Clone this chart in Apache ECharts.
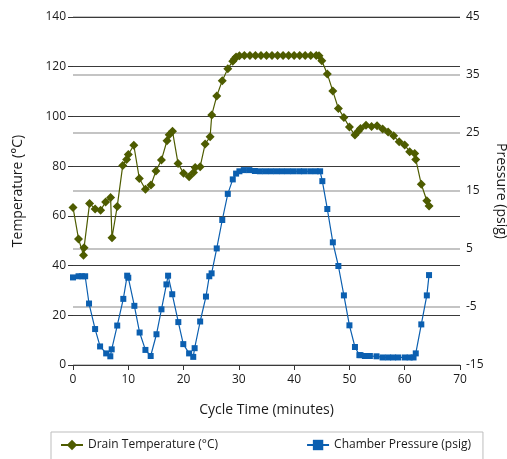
<!DOCTYPE html>
<html>
<head>
<meta charset="utf-8">
<script src="https://cdn.jsdelivr.net/npm/echarts@6/dist/echarts.min.js"></script>
<style>
  html, body { margin: 0; padding: 0; background: #fff; }
  #chart { width: 507px; height: 459px; }
</style>
</head>
<body>
<div id="chart"></div>
<script>
// Sterilizer cycle: drain temperature and chamber pressure over time
const tempTime = [0, 1, 1.9, 2, 3, 4, 5, 5.9, 6.8, 7.05, 8, 9, 9.7, 10, 11, 12, 13.1, 14.1, 15, 16,
  17, 17.4, 18, 19, 20, 21, 21.8, 22.1, 23, 23.9, 24.8, 25.1, 26, 27, 28, 28.9, 29.2, 29.5, 30.1,
  31, 32, 33, 34, 35, 36, 37, 38, 39, 40, 41, 42, 43, 44, 44.5, 45, 46, 47, 48, 49, 50, 51, 51.6,
  52, 53, 54, 55, 56, 57, 58, 59, 60, 60.9, 61.8, 62, 63, 64, 64.4];
const tempValue = [63.4, 50.7, 44.2, 47.2, 65.0, 62.8, 62.3, 65.6, 67.4, 51.2, 63.8, 80.3, 82.7, 84.7, 88.4, 75.0, 70.7, 72.4, 78.0, 82.5,
  90.2, 92.6, 94.0, 81.1, 77.1, 75.7, 77.4, 79.5, 79.8, 88.9, 91.8, 100.6, 108.2, 114.4, 119.2, 122.2, 123.1, 123.9, 124.4,
  124.5, 124.5, 124.5, 124.5, 124.5, 124.5, 124.5, 124.5, 124.5, 124.5, 124.5, 124.5, 124.5, 124.5, 124.4, 122.4, 117.1, 110.2, 103.2, 99.6, 95.7, 92.5, 94.0,
  95.1, 96.5, 95.9, 96.3, 94.9, 93.7, 92.2, 89.8, 88.5, 85.8, 85.1, 82.7, 72.7, 66.1, 64.0];

const presTime = [0, 1, 1.6, 2.2, 2.9, 4, 4.9, 6, 6.75, 7, 8, 9.1, 9.8, 10, 11.1, 12.05, 13.1, 14.05, 15.1, 16,
  16.9, 17.2, 17.95, 19.05, 19.95, 21, 21.75, 22, 23, 24.05, 24.65, 25.07, 26, 27, 28, 28.9, 29.5, 30.1, 30.9, 31.9,
  32.9, 33.8, 34.8, 35.8, 36.8, 37.8, 38.8, 39.8, 40.9, 41.8, 42.9, 43.9, 44.7, 45.1, 46, 47, 48, 49, 50, 51,
  51.8, 52, 52.8, 53.7, 54.9, 56, 57, 57.9, 58.8, 60, 60.9, 61.6, 62, 63, 64, 64.4];
const presValue = [0.1, 0.3, 0.3, 0.3, -4.4, -8.8, -11.8, -13.0, -13.5, -12.3, -8.2, -3.6, 0.4, 0.05, -4.8, -9.4, -12.4, -13.45, -9.7, -5.4,
  -1.1, 0.4, -2.8, -7.6, -11.4, -13.0, -13.6, -12.1, -7.5, -3.2, 0.3, 0.8, 5.1, 10.0, 14.5, 17.0, 18.0, 18.4, 18.6, 18.6,
  18.45, 18.4, 18.4, 18.4, 18.4, 18.4, 18.4, 18.4, 18.4, 18.4, 18.4, 18.4, 18.4, 16.7, 11.9, 6.15, 2.07, -3.0, -8.16, -11.9,
  -13.3, -13.3, -13.45, -13.45, -13.5, -13.7, -13.7, -13.7, -13.7, -13.7, -13.7, -13.7, -13.0, -8.0, -3.0, 0.5];

const pressureTicks = [-15, -5, 5, 15, 25, 35, 45];

const FONT = 'Open Sans';
const TEXT = '#1a1a1a';

const zip = (xs, ys) => xs.map((x, i) => [x, ys[i]]);

const chart = echarts.init(document.getElementById('chart'), null, { renderer: 'canvas' });

chart.setOption({
  animation: false,
  backgroundColor: '#ffffff',
  textStyle: { fontFamily: FONT },
  grid: { left: 73, right: 47, top: 17, bottom: 94, containLabel: false, outerBoundsMode: 'none' },
  legend: {
    left: 51, top: 432,
    padding: [7, 12, 20, 9],
    borderColor: '#bdbdbd', borderWidth: 1,
    itemGap: 88, itemWidth: 22, itemHeight: 13,
    textStyle: { fontFamily: FONT, fontSize: 12, color: TEXT },
    data: ['Drain Temperature (°C)', 'Chamber Pressure (psig)']
  },
  xAxis: {
    type: 'value', min: 0, max: 70, interval: 10,
    name: 'Cycle Time (minutes)', nameLocation: 'middle', nameGap: 38,
    nameTextStyle: { fontFamily: FONT, fontSize: 14, color: TEXT },
    axisLine: { show: true, lineStyle: { color: '#333', width: 1 } },
    axisTick: { show: true, length: 5, lineStyle: { color: '#333' } },
    axisLabel: { fontFamily: FONT, fontSize: 12, color: TEXT, margin: 9 },
    splitLine: { show: false }
  },
  yAxis: [
    {
      type: 'value', position: 'left', min: 0, max: 140, interval: 20, z: 1,
      name: 'Temperature (°C)', nameLocation: 'middle', nameGap: 48,
      nameTextStyle: { fontFamily: FONT, fontSize: 14, color: TEXT },
      axisLine: { show: false },
      axisTick: { show: true, length: 5, lineStyle: { color: '#333' } },
      axisLabel: { fontFamily: FONT, fontSize: 12, color: TEXT, margin: 7 },
      splitLine: { show: true, lineStyle: { color: '#3a3a3a', width: 1 } }
    },
    {
      type: 'value', position: 'right', min: -15, max: 45,
      name: 'Pressure (psig)', nameLocation: 'middle', nameGap: 28, nameRotate: -90,
      nameTextStyle: { fontFamily: FONT, fontSize: 14, color: TEXT },
      axisLine: { show: false },
      axisTick: { show: false, customValues: pressureTicks },
      axisLabel: { fontFamily: FONT, fontSize: 12, color: TEXT, margin: 6, customValues: pressureTicks },
      splitLine: { show: true, lineStyle: { color: '#c4c4c4', width: 2 } }
    }
  ],
  series: [
    {
      name: 'Drain Temperature (°C)', type: 'line', yAxisIndex: 0,
      data: zip(tempTime, tempValue),
      symbol: 'diamond', symbolSize: 9,
      itemStyle: { color: '#4e5c00' },
      lineStyle: { color: '#4e5c00', width: 1.2 }
    },
    {
      name: 'Chamber Pressure (psig)', type: 'line', yAxisIndex: 1,
      data: zip(presTime, presValue),
      symbol: 'rect', symbolSize: 6,
      itemStyle: { color: '#0b5fb0' },
      lineStyle: { color: '#0b5fb0', width: 1.2 }
    }
  ]
});
</script>
</body>
</html>
